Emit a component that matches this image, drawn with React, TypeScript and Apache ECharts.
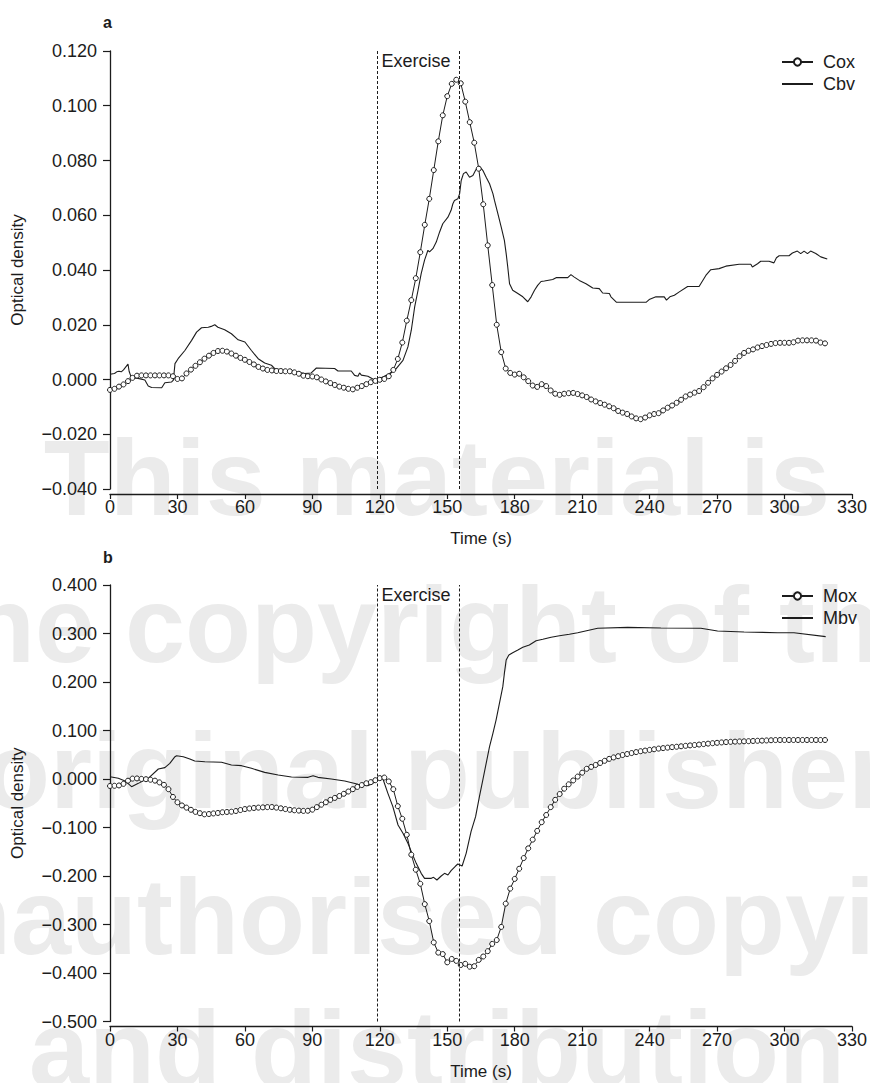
import { useEffect, useRef } from 'react';
import * as echarts from 'echarts';

// ---------- data ----------
const SAMPLE_STEP = 2; // seconds between marker samples (Cox, Mox)
const exerciseStart = 119;
const exerciseEnd = 155.5;

// panel a – Cox (sampled every 2 s from t = 0 s)
const coxValues = [
  -0.0038, -0.0034, -0.0026, -0.0018, -0.0006, 0.0006, 0.0014, 0.0015, 0.0015, 0.0015,
  0.0015, 0.0015, 0.0015, 0.0015, 0.0012, 0.0002, 0.0004, 0.0022, 0.0036, 0.005,
  0.0063, 0.0076, 0.0087, 0.0097, 0.0104, 0.0105, 0.0102, 0.0095, 0.0087, 0.0079,
  0.0072, 0.0064, 0.0055, 0.0046, 0.004, 0.0035, 0.0033, 0.0031, 0.0031, 0.003,
  0.003, 0.0026, 0.0021, 0.0014, 0.0012, 0.0011, 0.0008, 0.0, -0.0007, -0.0013,
  -0.002, -0.0026, -0.003, -0.0034, -0.0036, -0.003, -0.0024, -0.0017, -0.001, -0.0005,
  -0.0001, 0.0002, 0.0012, 0.0035, 0.0075, 0.0135, 0.0215, 0.029, 0.037, 0.0465,
  0.0565, 0.066, 0.0765, 0.087, 0.0965, 0.1035, 0.108, 0.1095, 0.1082, 0.1015,
  0.094, 0.0865, 0.077, 0.064, 0.049, 0.0345, 0.02, 0.01, 0.004, 0.0024,
  0.0018, 0.0021, 0.0008, -0.0006, -0.0022, -0.0027, -0.0017, -0.0024, -0.004, -0.0052,
  -0.0056, -0.0052, -0.005, -0.0049, -0.0053, -0.0058, -0.0064, -0.0073, -0.008, -0.0086,
  -0.0092, -0.0098, -0.0105, -0.0115, -0.0121, -0.0126, -0.0135, -0.0142, -0.0145, -0.0139,
  -0.0131, -0.0126, -0.0123, -0.0113, -0.0103, -0.0095, -0.0085, -0.0074, -0.0062, -0.0055,
  -0.0048, -0.0042, -0.0028, -0.0012, 0.0004, 0.0017, 0.0029, 0.0041, 0.0053, 0.0068,
  0.0085, 0.0097, 0.0105, 0.011, 0.0117, 0.0122, 0.0126, 0.013, 0.0133, 0.0134,
  0.0134, 0.0134, 0.0136, 0.0142, 0.0143, 0.0143, 0.0143, 0.0142, 0.0135, 0.0132,
];

// panel a – Cbv [time (s), optical density]
const cbvPoints: [number, number][] = [
  [0, 0.0019], [2, 0.0022], [3, 0.0028], [4, 0.003], [5, 0.0028], [6, 0.0035], [8, 0.0056],
  [8.5, 0.003], [9.5, 0.0007], [12, 0.0005], [15.5, -0.0002], [17, -0.0024], [18.5, -0.0029],
  [23, -0.003], [24.4, -0.0012], [27.4, -0.0009], [28.2, -0.0002], [28.9, 0.0058], [30.3, 0.0076],
  [33.3, 0.0106], [36.3, 0.0143], [38.5, 0.0173], [40.7, 0.0189], [43.7, 0.0191], [45, 0.0194],
  [46.6, 0.02], [48, 0.0191], [51, 0.0182], [54, 0.0167], [57, 0.0145], [60, 0.0137],
  [62.9, 0.0106], [65.9, 0.0076], [68.8, 0.006], [71.8, 0.0052], [73.3, 0.004], [77.7, 0.0034],
  [80.7, 0.0034], [82.9, 0.0028], [86.6, 0.0022], [89.5, 0.0024], [91.8, 0.0042], [99.9, 0.004],
  [101.4, 0.0031], [107.3, 0.0031], [108.8, 0.0015], [110.3, 0.0012], [111, 0.0024], [111.8, 0.0016],
  [114.7, 0.0012], [117.7, -0.0002], [119, 0.0], [122, 0.0012], [124.4, 0.0022], [127.3, 0.004],
  [130.3, 0.007], [132.5, 0.0119], [134, 0.018], [135.5, 0.0265], [137, 0.0326], [138.4, 0.0387],
  [139.9, 0.0436], [141.4, 0.0472], [142.1, 0.0466], [143.6, 0.0478], [145.1, 0.0502], [146.6, 0.0539],
  [148, 0.0569], [150.3, 0.0593], [151.7, 0.0618], [152.5, 0.0642], [153.2, 0.0654], [154.7, 0.066],
  [155.5, 0.0679], [156.2, 0.0727], [157.2, 0.0752], [158.4, 0.0758], [159.9, 0.0739], [161.4, 0.0745],
  [162.6, 0.0764], [163.6, 0.0776], [164.3, 0.0779], [165.8, 0.0764], [167.3, 0.0739], [168.8, 0.0715],
  [170.3, 0.0679], [171, 0.0654], [172.5, 0.0606], [174, 0.0557], [175.4, 0.0508], [176.2, 0.046],
  [176.9, 0.0411], [177.7, 0.035], [179.1, 0.0326], [181.4, 0.0314], [183.6, 0.0302], [185.8, 0.0284],
  [187.3, 0.0302], [188.8, 0.0326], [190.2, 0.0344], [191.7, 0.0358], [193.2, 0.036], [196.9, 0.0365],
  [198.4, 0.0372], [203.6, 0.0372], [205, 0.0383], [206.5, 0.0374], [208.7, 0.0362], [211.7, 0.035],
  [214.7, 0.0334], [217.6, 0.0332], [219.1, 0.0316], [222.1, 0.0314], [222.8, 0.0302], [225.3, 0.0282],
  [238.4, 0.0282], [239.8, 0.0292], [242.8, 0.0302], [246.5, 0.0302], [247.5, 0.029], [249, 0.0302],
  [251, 0.0308], [253.2, 0.032], [256.9, 0.034], [262, 0.034], [265, 0.038], [267.2, 0.0401],
  [270.9, 0.0405], [273.9, 0.0414], [279.8, 0.0421], [285, 0.0421], [285.7, 0.0411], [288, 0.0423],
  [289.4, 0.0432], [293.1, 0.0432], [295.3, 0.0426], [296.4, 0.0445], [297.6, 0.0452], [302, 0.0452],
  [303.5, 0.0462], [305.7, 0.0469], [307.2, 0.046], [308.7, 0.0469], [310.2, 0.046], [311.6, 0.0469],
  [313.9, 0.046], [316.1, 0.0448], [319, 0.044],
];

// panel b – Mox (sampled every 2 s from t = 0 s)
const moxValues = [
  -0.0144, -0.014, -0.0133, -0.01, -0.0035, 0.0008, 0.0012, 0.0002, -0.0004, -0.0015,
  -0.0034, -0.007, -0.012, -0.021, -0.037, -0.048, -0.0545, -0.059, -0.0635, -0.0678,
  -0.0705, -0.0728, -0.0722, -0.071, -0.07, -0.0686, -0.068, -0.0674, -0.066, -0.064,
  -0.062, -0.0608, -0.0598, -0.059, -0.0585, -0.058, -0.0578, -0.059, -0.0604, -0.062,
  -0.0635, -0.0645, -0.0652, -0.0658, -0.0655, -0.0632, -0.058, -0.053, -0.048, -0.043,
  -0.039, -0.035, -0.0305, -0.0258, -0.021, -0.0163, -0.0125, -0.0088, -0.0065, -0.0025,
  0.0018, 0.003, -0.005, -0.021, -0.056, -0.082, -0.115, -0.156, -0.187, -0.216,
  -0.258, -0.293, -0.337, -0.358, -0.361, -0.378, -0.371, -0.375, -0.3835, -0.381,
  -0.387, -0.386, -0.373, -0.366, -0.355, -0.34, -0.332, -0.305, -0.257, -0.226,
  -0.206, -0.185, -0.163, -0.143, -0.125, -0.107, -0.089, -0.0742, -0.058, -0.043,
  -0.031, -0.02, -0.011, -0.003, 0.005, 0.013, 0.021, 0.025, 0.029, 0.033,
  0.0375, 0.0415, 0.0445, 0.047, 0.0495, 0.0515, 0.0535, 0.0555, 0.0573, 0.0586,
  0.06, 0.0613, 0.0627, 0.0637, 0.0647, 0.0657, 0.0665, 0.0675, 0.0684, 0.0693,
  0.0701, 0.071, 0.072, 0.0729, 0.0738, 0.0746, 0.0754, 0.0761, 0.0766, 0.077,
  0.0774, 0.0777, 0.078, 0.0784, 0.0788, 0.0791, 0.0795, 0.0799, 0.0803, 0.0804,
  0.0804, 0.0804, 0.0804, 0.0804, 0.0804, 0.0804, 0.0804, 0.0804, 0.0804, 0.0804,
];

// panel b – Mbv [time (s), optical density]
const mbvPoints: [number, number][] = [
  [0, 0.0048], [3.7, 0.0014], [6.7, -0.004], [9.6, -0.0158], [12.6, -0.009], [17, 0.0014],
  [21.5, 0.0206], [24.4, 0.0234], [26.6, 0.0323], [28.9, 0.046], [29.6, 0.0481], [32.6, 0.046],
  [35.5, 0.0412], [37.7, 0.0371], [42.2, 0.0357], [49.6, 0.0344], [54, 0.0289], [58.5, 0.0275],
  [62.9, 0.022], [68.8, 0.0137], [74.8, 0.0082], [80.7, 0.0041], [88.1, 0.0034], [90.3, 0.0069],
  [92.5, 0.0034], [98.4, 0], [104.4, -0.004], [110.3, -0.011], [114.7, -0.0137], [117.7, -0.0069],
  [119.9, 0.0014], [121.4, 0.0], [123.6, -0.0296], [125.8, -0.057], [128.1, -0.0948], [130.3, -0.112],
  [132.5, -0.1326], [134, -0.1498], [136.2, -0.1739], [138.4, -0.1945], [139.9, -0.2048], [142.9, -0.2048],
  [143.9, -0.2027], [145.4, -0.2082], [147.3, -0.2], [148.8, -0.1945], [150.3, -0.1979], [151.7, -0.189],
  [153.7, -0.1794], [154.7, -0.1753], [156.6, -0.1794], [158.4, -0.1533], [160.6, -0.108], [162.6, -0.0777],
  [164.3, -0.0364], [165.8, -0.0021], [167.3, 0.0323], [168.8, 0.0667], [170.3, 0.0942], [171.7, 0.1216],
  [173.2, 0.156], [174.7, 0.1904], [175.4, 0.2179], [176.2, 0.2454], [177.4, 0.2557], [179.1, 0.2605],
  [181.4, 0.266], [183.6, 0.2715], [186.5, 0.2763], [189.5, 0.2852], [192.5, 0.288], [196.2, 0.2921],
  [199.9, 0.2955], [204.3, 0.2983], [208, 0.3017], [216.9, 0.3107], [230.2, 0.3127], [245, 0.3113],
  [262.8, 0.3107], [270.2, 0.3052], [282, 0.3031], [296.8, 0.3017], [304.2, 0.3017], [318.3, 0.2935],
];

const watermarkLines = [
  'This material is',
  'the copyright of the',
  'original publisher',
  'Unauthorised copying',
  'and distribution',
];
const watermarkBaselines = [513, 660, 806, 952, 1084];

// ---------- styling ----------
const FONT = '"Liberation Sans", Arial, Helvetica, sans-serif';
const INK = '#1c1c1c';

const fmt = (v: number) => {
  const s = Math.abs(v).toFixed(3);
  return v < -1e-9 ? '\u2212' + s : s;
};

function xAxisFor(gridIndex: number) {
  return {
    gridIndex,
    type: 'value',
    min: 0,
    max: 330,
    interval: 30,
    offset: 5,
    axisLine: { show: true, onZero: false, lineStyle: { color: INK, width: 1.3 } },
    axisTick: { show: true, length: 5, lineStyle: { color: INK, width: 1.2 } },
    axisLabel: { margin: 4, fontSize: 18, color: INK, fontFamily: FONT },
    splitLine: { show: false },
    name: 'Time (s)',
    nameLocation: 'middle',
    nameGap: 36,
    nameTextStyle: { fontSize: 17, color: INK, fontFamily: FONT },
  };
}

function yAxisFor(gridIndex: number, min: number, max: number, interval: number) {
  return {
    gridIndex,
    type: 'value',
    min,
    max,
    interval,
    axisLine: { show: true, onZero: false, lineStyle: { color: INK, width: 1.3 } },
    axisTick: { show: true, length: 7, lineStyle: { color: INK, width: 1.2 } },
    axisLabel: { margin: 13, fontSize: 18, color: INK, fontFamily: FONT, formatter: fmt },
    splitLine: { show: false },
    name: 'Optical density',
    nameLocation: 'middle',
    nameGap: 84,
    nameTextStyle: { fontSize: 17, color: INK, fontFamily: FONT },
  };
}

function exerciseMarks() {
  return {
    markLine: {
      silent: true,
      symbol: ['none', 'none'],
      label: { show: false },
      lineStyle: { type: [3, 2], color: INK, width: 1 },
      data: [{ xAxis: exerciseStart }, { xAxis: exerciseEnd }],
    },
    markArea: {
      silent: true,
      itemStyle: { color: 'rgba(0,0,0,0)' },
      label: {
        show: true,
        position: 'insideTopLeft',
        distance: 4,
        offset: [0, -3],
        color: INK,
        fontSize: 18,
        fontFamily: FONT,
      },
      data: [[{ name: 'Exercise', xAxis: exerciseStart }, { xAxis: exerciseEnd }]],
    },
  };
}

function markerSeries(name: string, values: number[], idx: number) {
  return {
    name,
    type: 'line',
    xAxisIndex: idx,
    yAxisIndex: idx,
    data: values.map((v, i) => [i * SAMPLE_STEP, v]),
    symbol: 'circle',
    symbolSize: 5,
    showSymbol: true,
    itemStyle: { color: '#ffffff', borderColor: INK, borderWidth: 1 },
    lineStyle: { color: INK, width: 1 },
    z: 3,
    ...exerciseMarks(),
  };
}

function plainSeries(name: string, points: [number, number][], idx: number) {
  return {
    name,
    type: 'line',
    xAxisIndex: idx,
    yAxisIndex: idx,
    data: points,
    symbol: 'none',
    itemStyle: { color: INK },
    lineStyle: { color: INK, width: 1.1 },
    z: 2,
  };
}

function legendFor(markerName: string, lineName: string, top: number) {
  return {
    data: [
      { name: markerName },
      { name: lineName, itemStyle: { opacity: 0 } },
    ],
    orient: 'vertical',
    left: 776,
    top,
    itemWidth: 31,
    itemHeight: 9,
    itemGap: 4,
    selectedMode: false,
    textStyle: { fontSize: 18, color: INK, fontFamily: FONT, padding: [0, 0, 0, 5] },
  };
}

export default function App() {
  const ref = useRef<HTMLDivElement>(null);

  useEffect(() => {
    document.body.style.margin = '0';
    if (!ref.current) return;
    const chart = echarts.init(ref.current, undefined, { renderer: 'svg' });

    const watermark = watermarkLines.map((text, i) => ({
      type: 'text',
      x: 437,
      y: watermarkBaselines[i] - 36,
      z: -10,
      silent: true,
      style: {
        text,
        fill: '#ebebeb',
        font: `bold 108px ${FONT}`,
        align: 'center',
        verticalAlign: 'middle',
      },
    }));

    chart.setOption({
      animation: false,
      backgroundColor: '#ffffff',
      textStyle: { fontFamily: FONT },
      title: [
        { text: 'a', left: 103, top: 14, padding: 0, textStyle: { fontSize: 16, fontWeight: 'bold', color: INK, fontFamily: FONT } },
        { text: 'b', left: 103, top: 549, padding: 0, textStyle: { fontSize: 16, fontWeight: 'bold', color: INK, fontFamily: FONT } },
      ],
      graphic: { elements: watermark },
      legend: [legendFor('Cox', 'Cbv', 48), legendFor('Mox', 'Mbv', 582)],
      grid: [
        { left: 110, right: 17, top: 51, height: 438 },
        { left: 110, right: 17, top: 585, height: 436.5 },
      ],
      xAxis: [xAxisFor(0), xAxisFor(1)],
      yAxis: [yAxisFor(0, -0.04, 0.12, 0.02), yAxisFor(1, -0.5, 0.4, 0.1)],
      series: [
        markerSeries('Cox', coxValues, 0),
        plainSeries('Cbv', cbvPoints, 0),
        markerSeries('Mox', moxValues, 1),
        plainSeries('Mbv', mbvPoints, 1),
      ],
    });

    return () => chart.dispose();
  }, []);

  return <div ref={ref} style={{ width: 870, height: 1083 }} />;
}
